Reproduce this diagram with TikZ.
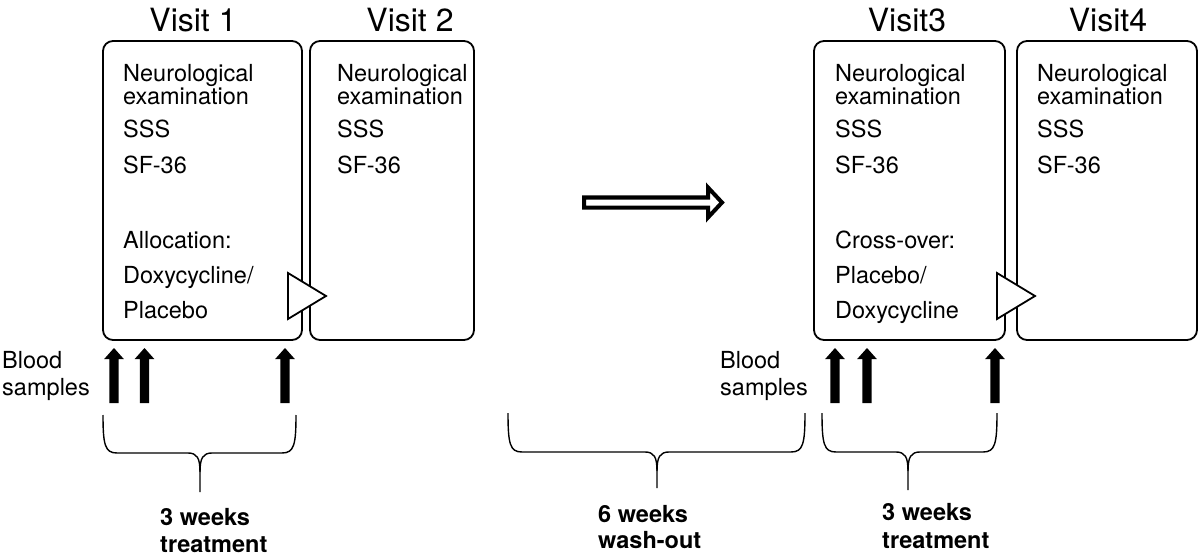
\documentclass[tikz,border=0pt]{standalone}
\usepackage{fontspec}
\setmainfont{TeX Gyre Heros}
\begin{document}
\begin{tikzpicture}[x=1pt,y=-1pt,
  visitbox/.style={draw=black,line width=1.8pt,rounded corners=10pt,fill=white},
  body/.style={anchor=base west,inner sep=0pt,font=\fontsize{23.5}{26}\selectfont},
  twoline/.style={anchor=north west,inner sep=0pt,align=left,font=\fontsize{23.5}{26}\selectfont},
  title/.style={anchor=base,inner sep=0pt,font=\fontsize{32}{36}\selectfont},
  bold/.style={anchor=base west,inner sep=0pt,font=\fontsize{23.5}{26}\selectfont\bfseries},
  tri/.style={draw=black,fill=white,line width=1.8pt,line join=miter},
  bracel/.style={draw=black,line width=1.4pt},
  blockup/.style={fill=black,draw=none}]
\useasboundingbox (0,0) rectangle (1200,559);
\fill[white] (0,0) rectangle (1200,559);

% boxes
\path[visitbox] (103,41) rectangle (302,340);
\node[inner sep=0pt,minimum width=199pt,minimum height=299pt] (b1) at (202.5,190.5) {};
\path[visitbox] (310,41) rectangle (474,340);
\node[inner sep=0pt,minimum width=164pt,minimum height=299pt] (b2) at (392,190.5) {};
\path[visitbox] (814,41) rectangle (1005,340);
\node[inner sep=0pt,minimum width=191pt,minimum height=299pt] (b3) at (909.5,190.5) {};
\path[visitbox] (1017,41) rectangle (1197,340);
\node[inner sep=0pt,minimum width=180pt,minimum height=299pt] (b4) at (1107,190.5) {};

% triangles
\draw[tri] (288,273) -- (326,296) -- (288,319) -- cycle;
\draw[tri] (997,273) -- (1035,296) -- (997,319) -- cycle;

% titles
\node[title] (t1) at (193,32) {Visit 1};
\node[title] (t2) at (410,32) {Visit 2};
\node[title] (t3) at (907,32) {Visit3};
\node[title] (t4) at (1108,32) {Visit4};

% box 1 text
\node[twoline] (a1) at (123,64) {Neurological\\[-2.5pt]examination};
\node[body] (a3) at (123,138) {SSS};
\node[body] (a4) at (123,174) {SF-36};
\node[body] (a5) at (123,248) {Allocation:};
\node[body] (a6) at (123,283) {Doxycycline/};
\node[body] (a7) at (123,318) {Placebo};
% box 2 text
\node[twoline] (c1) at (337,64) {Neurological\\[-2.5pt]examination};
\node[body] (c3) at (337,138) {SSS};
\node[body] (c4) at (337,174) {SF-36};
% box 3 text
\node[twoline] (d1) at (835,64) {Neurological\\[-2.5pt]examination};
\node[body] (d3) at (835,138) {SSS};
\node[body] (d4) at (835,174) {SF-36};
\node[body] (d5) at (835,248) {Cross-over:};
\node[body] (d6) at (835,283) {Placebo/};
\node[body] (d7) at (835,318) {Doxycycline};
% box 4 text
\node[twoline] (e1) at (1037,64) {Neurological\\[-2.5pt]examination};
\node[body] (e3) at (1037,138) {SSS};
\node[body] (e4) at (1037,174) {SF-36};

% blood samples labels
\node[body] (bs1) at (2,368) {Blood};
\node[body] (bs2) at (2,395) {samples};
\node[body] (bs3) at (720,368) {Blood};
\node[body] (bs4) at (720,395) {samples};

% block arrows
\foreach \cx in {114,144.5,285,835,867,995}{
  \fill[blockup] (\cx-4.6,403) -- (\cx-4.6,359) -- (\cx-9.8,359) -- (\cx,348) -- (\cx+9.8,359) -- (\cx+4.6,359) -- (\cx+4.6,403) -- cycle;
}

% hollow arrow
\draw[line width=4pt,fill=white,line join=miter,miter limit=10] (584,197.5) -- (708,197.5) -- (708,187.5) -- (722,202.5) -- (708,217.5) -- (708,207.5) -- (584,207.5) -- cycle;

% braces
\draw[bracel] (103,415) .. controls (103,445) and (105,453) .. (117,453) -- (188,453) .. controls (197,453) and (200,458) .. (200,472) -- (200,492);
\draw[bracel] (296,415) .. controls (296,445) and (294,453) .. (282,453) -- (212,453) .. controls (203,453) and (200,458) .. (200,472);
\draw[bracel] (508,413) .. controls (508,444) and (510,452) .. (522,452) -- (645,452) .. controls (654,452) and (657,457) .. (657,471) -- (657,488);
\draw[bracel] (805,413) .. controls (805,444) and (803,452) .. (791,452) -- (669,452) .. controls (660,452) and (657,457) .. (657,471);
\draw[bracel] (822,413) .. controls (822,444) and (824,452) .. (836,452) -- (896,452) .. controls (905,452) and (908,457) .. (908,471) -- (908,490);
\draw[bracel] (997,413) .. controls (997,444) and (995,452) .. (983,452) -- (920,452) .. controls (911,452) and (908,457) .. (908,471);

% brace labels
\node[bold] (w1) at (160,525) {3 weeks};
\node[bold] (w2) at (160,552) {treatment};
\node[bold] (w3) at (598,522) {6 weeks};
\node[bold] (w4) at (598,548) {wash-out};
\node[bold] (w5) at (882,520) {3 weeks};
\node[bold] (w6) at (882,548) {treatment};
\end{tikzpicture}
\end{document}
